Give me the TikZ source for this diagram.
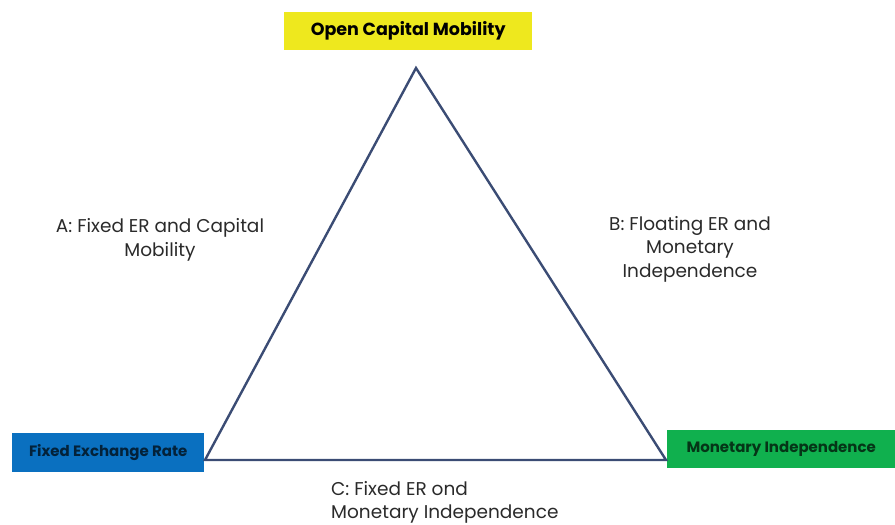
\documentclass[tikz,border=0pt]{standalone}
\usepackage{fontspec}
\setmainfont{Poppins}
\definecolor{ybox}{HTML}{EEE81E}
\definecolor{bbox}{HTML}{0A70C0}
\definecolor{gbox}{HTML}{10B04E}
\definecolor{tri}{HTML}{3B4C74}
\definecolor{lbl}{HTML}{2A2A2A}
\begin{document}
\begin{tikzpicture}[x=1pt,y=-1pt,
  boxstyle/.style={rectangle, inner sep=0pt, anchor=north west, font=\bfseries\fontsize{15}{17}\selectfont},
  lblstyle/.style={inner sep=0pt, text=lbl, font=\fontsize{18.5}{23.5}\selectfont},
  edge/.style={draw=tri, line width=2.4pt, line join=miter}]
\useasboundingbox (0,0) rectangle (895,525);
\node[boxstyle, fill=ybox, minimum width=248pt, minimum height=38pt, font=\bfseries\fontsize{17.5}{19}\selectfont] (ocm) at (284,12) {Open Capital Mobility};
\node[boxstyle, fill=bbox, text=black!70!bbox, minimum width=192pt, minimum height=39pt] (fer) at (12,433) {Fixed Exchange Rate};
\node[boxstyle, fill=gbox, text=black!70!gbox, minimum width=228pt, minimum height=38pt] (mi) at (667,430) {Monetary Independence};
\coordinate (top) at (416,68);
\coordinate (lft) at (205,460);
\coordinate (rgt) at (666,460);
\draw[edge] (top) -- (lft) -- (rgt) -- cycle;
\node[lblstyle, align=center] (la) at (160,240) {A: Fixed ER and Capital\\Mobility};
\node[lblstyle, align=center] (lb) at (690,249) {B: Floating ER and\\Monetary\\Independence};
\node[lblstyle, align=left, anchor=north west] (lc) at (331,481) {C: Fixed ER ond\\Monetary Independence};
\end{tikzpicture}
\end{document}
